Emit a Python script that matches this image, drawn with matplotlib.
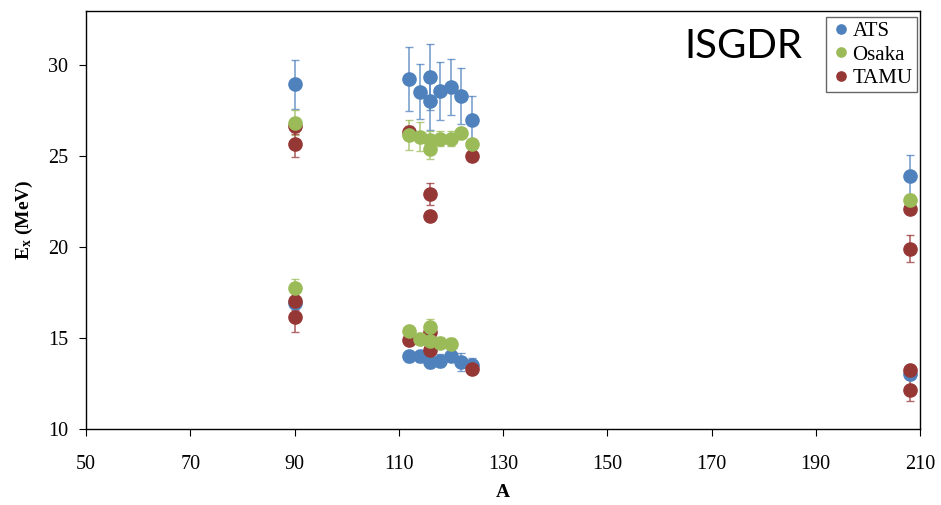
import matplotlib.pyplot as plt

# ATS
ats_a = [90, 90, 112, 114, 116, 116, 118, 120, 122, 124,
         112, 114, 116, 118, 120, 122, 124, 208, 208]
ats_e = [28.94, 16.92, 29.23, 28.55, 29.34, 28.03, 28.57, 28.8, 28.3, 26.99,
         13.98, 13.98, 13.69, 13.75, 14.02, 13.65, 13.53, 23.9, 13.01]
ats_err = [1.37, 0.3, 1.75, 1.5, 1.8, 1.6, 1.6, 1.55, 1.55, 1.3,
           0.3, 0.3, 0.35, 0.35, 0.3, 0.5, 0.35, 1.13, 0.3]

# Osaka
osaka_a = [90, 90, 112, 114, 116, 116, 118, 120, 122, 124,
           112, 114, 116, 116, 118, 120, 208]
osaka_e = [26.84, 17.75, 26.16, 26.05, 25.87, 25.39, 25.96, 25.96, 26.27, 25.65,
           15.36, 14.94, 15.58, 14.85, 14.74, 14.67, 22.6]
osaka_err = [0.7, 0.5, 0.8, 0.8, 0.5, 0.57, 0.4, 0.4, 0.3, 0.3,
             0.3, 0.3, 0.45, 0.3, 0.3, 0.3, 0.3]

# TAMU
tamu_a = [90, 90, 90, 90, 112, 116, 116, 124,
          112, 116, 116, 124, 208, 208, 208, 208]
tamu_e = [26.64, 25.65, 17.05, 16.13, 26.33, 22.93, 21.7, 25.02,
          14.89, 15.31, 14.34, 13.29, 22.1, 19.9, 13.23, 12.13]
tamu_err = [0.4, 0.7, 0.5, 0.8, 0.3, 0.6, 0.3, 0.3,
            0.3, 0.3, 0.3, 0.2, 0.3, 0.75, 0.3, 0.63]

series = [
    ("ATS", ats_a, ats_e, ats_err, "#4F81BD", 3),
    ("Osaka", osaka_a, osaka_e, osaka_err, "#9BBB59", 5),
    ("TAMU", tamu_a, tamu_e, tamu_err, "#953735", 4),
]

serif = ["Liberation Serif", "DejaVu Serif"]
plt.rcParams["mathtext.fontset"] = "custom"
plt.rcParams["mathtext.bf"] = "Liberation Serif:bold"
plt.rcParams["mathtext.rm"] = "Liberation Serif"

fig = plt.figure(figsize=(9.41, 5.05), dpi=100)
ax = fig.add_axes([0.0914, 0.151, 0.8863, 0.828])

for name, a, e, err, color, z in series:
    ax.errorbar(a, e, yerr=err, fmt="none", ecolor=color, elinewidth=1.2,
                capsize=3, capthick=1.0, alpha=0.75, zorder=2)
    ax.plot(a, e, "o", color=color, ms=9.5, label=name, zorder=z)

ax.set_xlim(50, 210)
ax.set_ylim(10, 33)
ax.set_xticks(range(50, 211, 20))
ax.set_yticks(range(10, 31, 5))
ax.tick_params(direction="out", length=5, width=0.8, labelsize=14.5)
ax.tick_params(axis="x", pad=14)
ax.tick_params(axis="y", pad=8)
for lab in ax.get_xticklabels() + ax.get_yticklabels():
    lab.set_family(serif)
for s in ax.spines.values():
    s.set_linewidth(1.0)

ax.set_xlabel("A", fontsize=14, fontweight="bold", family=serif, labelpad=7)
ax.set_ylabel(r"$\mathbf{E_x}$ (MeV)", fontsize=14, fontweight="bold",
              family=serif, labelpad=9)

ax.text(0.717, 0.915, "ISGDR", transform=ax.transAxes, fontsize=29,
        family="Lato", ha="left", va="center")

leg = ax.legend(loc="upper right", bbox_to_anchor=(1.0, 0.992),
                prop={"family": serif, "size": 15}, frameon=True,
                fancybox=False, handletextpad=0.0, handlelength=1.1,
                borderpad=0.2, labelspacing=0.2, markerscale=0.7,
                borderaxespad=0.15)
leg.get_frame().set_edgecolor("#404040")
leg.get_frame().set_linewidth(1.0)

fig.savefig("out.png", dpi=100)
